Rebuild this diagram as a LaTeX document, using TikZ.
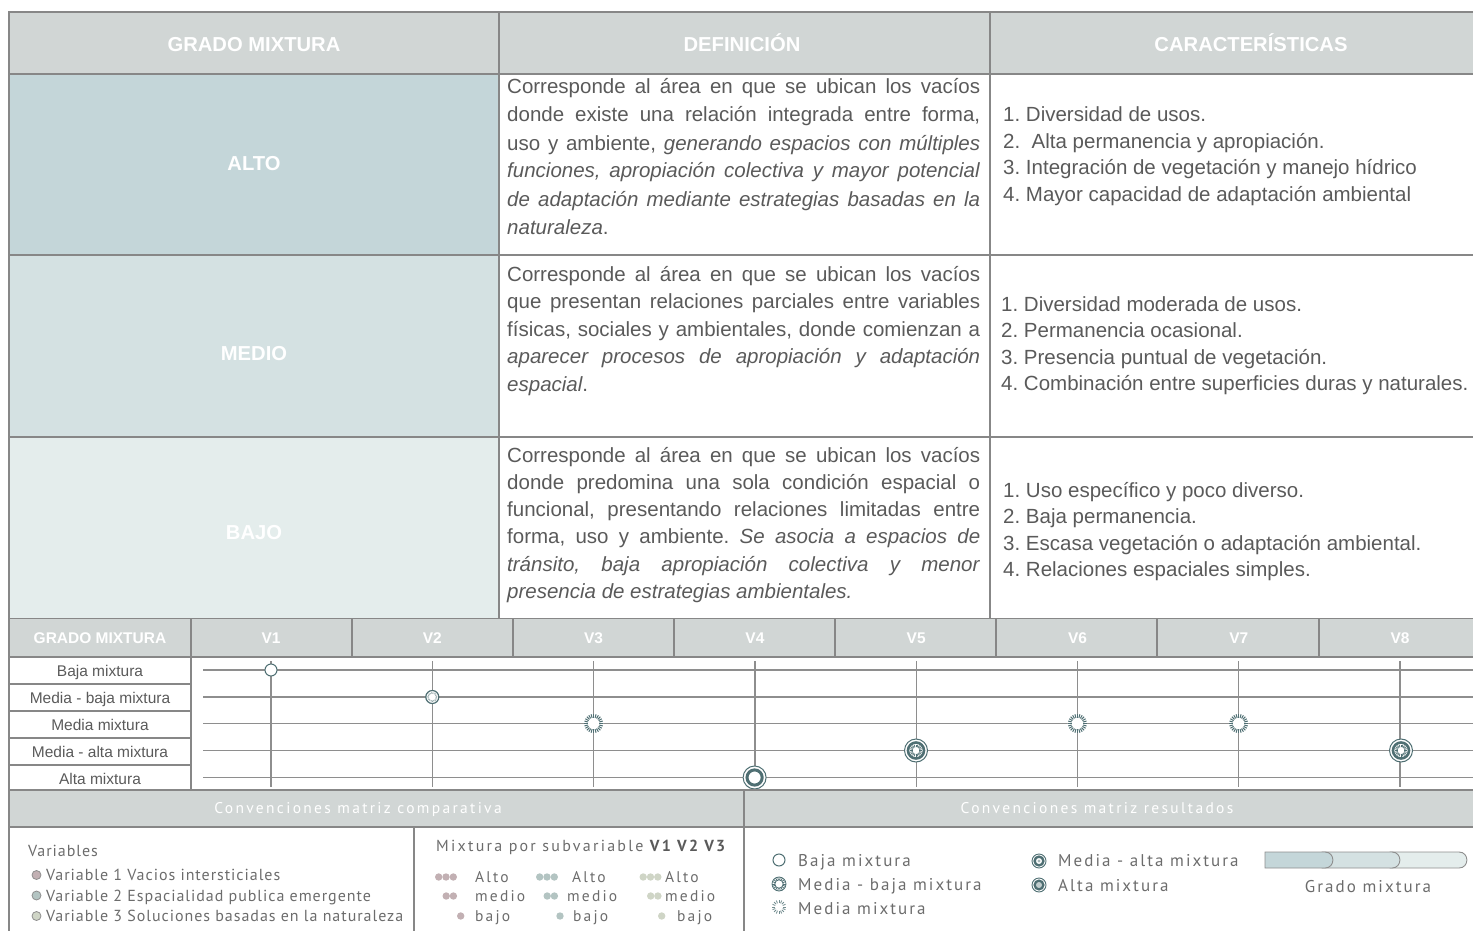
\documentclass[tikz,border=0pt]{standalone}
\usepackage{fontspec}
\setmainfont{Liberation Sans}
\newfontfamily\legfont[LetterSpace=6]{PT Sans}
\newfontfamily\legfontc[LetterSpace=14]{PT Sans}
\newfontfamily\legfontb[LetterSpace=12]{PT Sans}
\newfontfamily\leghfont[LetterSpace=15]{PT Sans}
\definecolor{hdr}{HTML}{D1D6D5}
\definecolor{bord}{HTML}{878787}
\definecolor{altoc}{HTML}{C4D6D9}
\definecolor{medioc}{HTML}{D4E1E2}
\definecolor{bajoc}{HTML}{E4EDEC}
\definecolor{txt}{HTML}{5A5A5A}
\definecolor{sym}{HTML}{4F6F73}
\definecolor{gridc}{HTML}{8E8E8E}
\definecolor{legc}{HTML}{6C6C6C}
\definecolor{vpink}{HTML}{C2B0B3}
\definecolor{vteal}{HTML}{B3C4C2}
\definecolor{vgreen}{HTML}{CFD5C6}
\newcommand\jline[1]{\makebox[473pt][s]{#1}}
\frenchspacing
\begin{document}
\begin{tikzpicture}[x=1pt,y=-1pt,
  frame/.style={draw=bord, line width=1.8pt},
  gridln/.style={draw=gridc, line width=1.3pt},
  hdrtxt/.style={text=white, font=\fontsize{20.2}{23}\selectfont\bfseries, inner sep=0, anchor=base},
  deftxt/.style={text=txt, font=\fontsize{20.5}{24}\selectfont, inner sep=0, anchor=base west},
  smhdr/.style={text=white, font=\fontsize{15.5}{18}\selectfont\bfseries, inner sep=0, anchor=base},
  rowlbl/.style={text=txt, font=\fontsize{15.5}{18}\selectfont, inner sep=0, anchor=base},
  legtxt/.style={text=legc, font=\legfont\fontsize{16}{19}\selectfont, inner sep=0, anchor=base west},
  legmix/.style={text=legc, font=\legfontc\fontsize{15.5}{18}\selectfont, inner sep=0, anchor=base west},
  legres/.style={text=legc, font=\legfontb\fontsize{17}{20}\selectfont, inner sep=0, anchor=base west},
  leghd/.style={text=white, font=\leghfont\fontsize{15.5}{18}\selectfont, inner sep=0, anchor=base},
  sbaja/.pic={\draw[sym, line width=1pt, fill=white] (0,0) circle[radius=6pt];},
  smbaja/.pic={\draw[sym, line width=1.2pt, fill=white] (0,0) circle[radius=6.5pt];
     \draw[sym!60, line width=1.4pt, dash pattern=on 0.7pt off 0.7pt] (0,0) circle[radius=4.3pt];},
  smedia/.pic={\fill[white] (0,0) circle[radius=9.5pt];
     \foreach \a in {0,15,...,345} \draw[sym, line width=1pt] (\a:5.8pt) -- (\a:9.5pt);},
  smalta/.pic={\draw[sym, line width=1pt, fill=white] (0,0) circle[radius=11.5pt];
     \draw[sym, line width=2.6pt] (0,0) circle[radius=8pt];
     \foreach \a in {0,18,...,342} \draw[sym, line width=0.8pt] (\a:3.4pt) -- (\a:6pt);},
  salta/.pic={\draw[sym, line width=1pt, fill=white] (0,0) circle[radius=11.5pt];
     \draw[sym, line width=3pt] (0,0) circle[radius=7.6pt];},
  lmbaja/.pic={\draw[sym, line width=0.8pt, fill=white] (0,0) circle[radius=7pt];
     \foreach \a in {0,20,...,340} \draw[sym, line width=0.8pt] (\a:4.2pt) -- (\a:7pt);
     \draw[sym, line width=0.8pt] (0,0) circle[radius=4.2pt];},
  lmedia/.pic={\foreach \a in {0,22.5,...,337.5} \draw[sym!80, line width=0.8pt] (\a:4pt) -- (\a:7pt);},
  lmalta/.pic={\draw[sym, line width=0.9pt, fill=white] (0,0) circle[radius=7pt];
     \draw[sym, line width=2.4pt, fill=white] (0,0) circle[radius=4.4pt];
     \fill[sym!50] (0,0) circle[radius=1.6pt];},
  lalta/.pic={\draw[sym, line width=0.9pt, fill=white] (0,0) circle[radius=7pt];
     \fill[sym] (0,0) circle[radius=5.6pt];
     \fill[sym!35] (0,0) circle[radius=3pt];},
]
\useasboundingbox (0,0) rectangle (1473,931);

% ---------- top table ----------
\fill[hdr] (9,12) rectangle (1473,74);
\fill[altoc] (9,74) rectangle (499,255);
\fill[medioc] (9,255) rectangle (499,437);
\fill[bajoc] (9,437) rectangle (499,618);

\node[hdrtxt] (h1) at (254,52) {GRADO MIXTURA};
\node[hdrtxt] (h2) at (742,52) {DEFINICIÓN};
\node[hdrtxt] (h3) at (1251,52) {CARACTERÍSTICAS};

\node[hdrtxt] (lalto) at (254,171) {ALTO};
\node[hdrtxt] (lmedio) at (254,360) {MEDIO};
\node[hdrtxt] (lbajo) at (254,539) {BAJO};

\foreach \t [count=\i] in {
  {\jline{Corresponde al área en que se ubican los vacíos}},
  {\jline{donde existe una relación integrada entre forma,}},
  {\jline{uso y ambiente, \textit{generando espacios con múltiples}}},
  {\jline{\textit{funciones, apropiación colectiva y mayor potencial}}},
  {\jline{\textit{de adaptación mediante estrategias basadas en la}}},
  {\textit{naturaleza}.}}
  \node[deftxt] (adef\i) at (507,{94+28*(\i-1)}) {\t};

\foreach \t [count=\i] in {
  {\jline{Corresponde al área en que se ubican los vacíos}},
  {\jline{que presentan relaciones parciales entre variables}},
  {\jline{físicas, sociales y ambientales, donde comienzan a}},
  {\jline{\textit{aparecer procesos de apropiación y adaptación}}},
  {\textit{espacial}.}}
  \node[deftxt] (mdef\i) at (507,{281+27.5*(\i-1)}) {\t};

\foreach \t [count=\i] in {
  {\jline{Corresponde al área en que se ubican los vacíos}},
  {\jline{donde predomina una sola condición espacial o}},
  {\jline{funcional, presentando relaciones limitadas entre}},
  {\jline{forma, uso y ambiente. \textit{Se asocia a espacios de}}},
  {\jline{\textit{tránsito, baja apropiación colectiva y menor}}},
  {\textit{presencia de estrategias ambientales.}}}
  \node[deftxt] (bdef\i) at (507,{462+27.3*(\i-1)}) {\t};

\foreach \t [count=\i] in {
  {1. Diversidad de usos.},
  {2.\ \ Alta permanencia y apropiación.},
  {3. Integración de vegetación y manejo hídrico},
  {4. Mayor capacidad de adaptación ambiental}}
  \node[deftxt] (achr\i) at (1003,{122+26.5*(\i-1)}) {\t};

\foreach \t [count=\i] in {
  {1. Diversidad moderada de usos.},
  {2. Permanencia ocasional.},
  {3. Presencia puntual de vegetación.},
  {4. Combinación entre superficies duras y naturales.}}
  \node[deftxt] (mchr\i) at (1001,{311+26.5*(\i-1)}) {\t};

\foreach \t [count=\i] in {
  {1. Uso específico y poco diverso.},
  {2. Baja permanencia.},
  {3. Escasa vegetación o adaptación ambiental.},
  {4. Relaciones espaciales simples.}}
  \node[deftxt] (bchr\i) at (1003,{497+26.5*(\i-1)}) {\t};

% ---------- comparative chart ----------
\fill[hdr] (9,619) rectangle (1473,657);
\node[smhdr] (gm) at (100,643.5) {GRADO MIXTURA};
\foreach \n [count=\i] in {V1,V2,V3,V4,V5,V6,V7,V8}
  \node[smhdr] (vh\i) at ({271+161.3*(\i-1)},643.5) {\n};

\foreach \t [count=\i] in {Baja mixtura, Media - baja mixtura, Media mixtura, Media - alta mixtura, Alta mixtura}
  \node[rowlbl] (rl\i) at (100,{676+27*(\i-1)}) {\t};

\foreach \y in {670,697,723.5,750.5,777.5}
  \draw[gridln] (203,\y) -- (1473,\y);
\foreach \i in {1,...,8}
  \draw[gridln] ({271+161.3*(\i-1)},661) -- ({271+161.3*(\i-1)},787);

\pic at (271,670) {sbaja};
\pic at (432.3,697) {smbaja};
\pic at (593.6,723.5) {smedia};
\pic at (754.6,777.5) {salta};
\pic at (916,750.5) {smalta};
\pic at (1077.4,723.5) {smedia};
\pic at (1238.6,723.5) {smedia};
\pic at (1401,750.5) {smalta};

% ---------- conventions ----------
\fill[hdr] (9,790) rectangle (1473,827);
\node[leghd] (ch1) at (358,813.5) {Convenciones matriz comparativa};
\node[leghd] (ch2) at (1097,813.5) {Convenciones matriz resultados};

\node[legtxt] (vars) at (28,856) {Variables};
\foreach \c/\t [count=\i] in {vpink/Variable 1 Vacios intersticiales, vteal/Variable 2 Espacialidad publica emergente, vgreen/Variable 3 Soluciones basadas en la naturaleza}{
  \draw[fill=\c, draw=gridc, line width=0.8pt] (36.5,{875+20.5*(\i-1)}) circle[radius=4.5pt];
  \node[legtxt] (var\i) at (46,{880.5+20.5*(\i-1)}) {\t};
}

\node[legmix, font=\legfontc\fontsize{16}{19}\selectfont] (mix) at (436,851) {Mixtura por subvariable {\color{txt}\bfseries V1 V2 V3}};
\foreach \c/\dx [count=\i] in {vpink/0, vteal/101, vgreen/204.5}{
  \foreach \x in {438.7,446,453.3} \fill[\c] ({\x+\dx},877) circle[radius=3.7pt];
  \foreach \x in {446.2,453.4} \fill[\c] ({\x+\dx},896) circle[radius=3.7pt];
}
\fill[vpink] (460.7,916) circle[radius=3.7pt];
\fill[vteal] (560,916) circle[radius=3.7pt];
\fill[vgreen] (661.7,916) circle[radius=3.7pt];
\node[legmix] (ma1) at (475,882) {Alto};
\node[legmix] (ma2) at (572,882) {Alto};
\node[legmix] (ma3) at (665,882) {Alto};
\node[legmix] (mm1) at (475,901) {medio};
\node[legmix] (mm2) at (567,901) {medio};
\node[legmix] (mm3) at (665,901) {medio};
\node[legmix] (mb1) at (475,921) {bajo};
\node[legmix] (mb2) at (573,921) {bajo};
\node[legmix] (mb3) at (677,921) {bajo};

\pic at (779,860) {sbaja};
\pic at (779,884) {lmbaja};
\pic at (779,907) {lmedia};
\pic at (1039,861) {lmalta};
\pic at (1039,885) {lalta};
\node[legres] (rb) at (798,866) {Baja mixtura};
\node[legres] (rmb) at (798,890) {Media - baja mixtura};
\node[legres] (rm) at (798,914) {Media mixtura};
\node[legres] (rma) at (1058,866) {Media - alta mixtura};
\node[legres] (ra) at (1058,891) {Alta mixtura};

\draw[fill=bajoc, draw=gridc, line width=0.9pt] (1390,852) -- (1459,852) .. controls (1469.5,852) and (1469.5,868) .. (1459,868) -- (1390,868) -- cycle;
\draw[fill=medioc, draw=gridc, line width=0.9pt] (1322,852) -- (1392,852) .. controls (1402.5,852) and (1402.5,868) .. (1392,868) -- (1322,868) -- cycle;
\draw[fill=altoc, draw=gridc, line width=0.9pt] (1265,852) -- (1325,852) .. controls (1335.5,852) and (1335.5,868) .. (1325,868) -- (1265,868) -- cycle;
\node[legres, anchor=base] (gmx) at (1368,892) {Grado mixtura};

% ---------- frame lines ----------
\draw[frame] (1473,12) -- (9,12) -- (9,931);
\foreach \y in {74,255,437,618.5,657,790,827} \draw[frame] (9,\y) -- (1473,\y);
\draw[frame] (499,12) -- (499,618.5);
\draw[frame] (990,12) -- (990,618.5);
\foreach \x in {191,352,513,674,835,996,1157,1319} \draw[frame] (\x,618.5) -- (\x,657);
\draw[frame] (191,657) -- (191,790);
\foreach \y in {684,711,738,765} \draw[frame] (9,\y) -- (191,\y);
\draw[frame] (744,790) -- (744,931);
\draw[frame] (414,827) -- (414,931);
\end{tikzpicture}
\end{document}
